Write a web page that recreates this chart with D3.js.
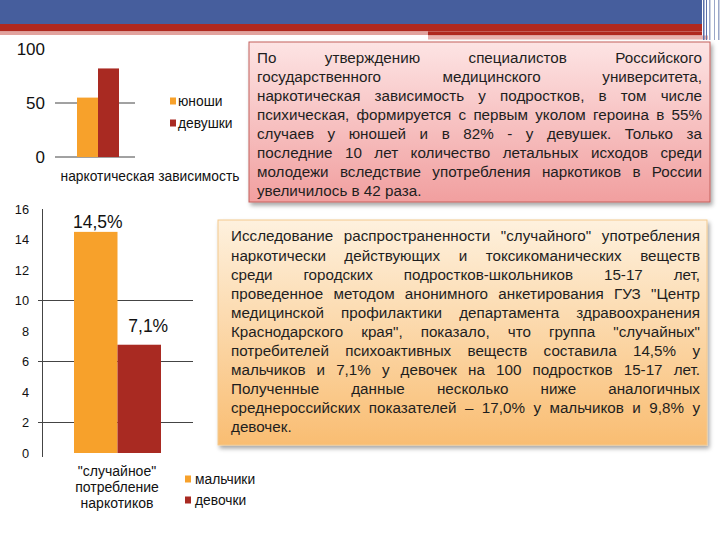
<!DOCTYPE html>
<html><head><meta charset="utf-8">
<script src="https://cdn.jsdelivr.net/npm/d3@7"></script>
<style>
html,body{margin:0;padding:0;background:#fff;}
svg{display:block;font-family:"Liberation Sans",Arial,sans-serif;}
</style></head>
<body>
<svg id="c" width="720" height="540"></svg>
<script>
// ---------- data ----------
const c1Category = "наркотическая зависимость";
const c1Series = ["юноши", "девушки"];
const c1Values = [55, 82];
const c1Ticks = [0, 50, 100];
const c1Grid = [0, 50];

const c2CategoryLines = ["\"случайное\"", "потребление", "наркотиков"];
const c2Series = ["мальчики", "девочки"];
const c2Values = [14.5, 7.1];
const c2Labels = ["14,5%", "7,1%"];
const c2Ticks = [0, 2, 4, 6, 8, 10, 12, 14, 16];
const c2Grid = [2, 6, 10];

const seriesColors = ["#f7a12b", "#a92a22"];

const text1Lines = [
  "По утверждению специалистов Российского",
  "государственного медицинского университета,",
  "наркотическая зависимость у подростков, в том числе",
  "психическая, формируется с первым уколом героина в 55%",
  "случаев у юношей и в 82% - у девушек. Только за",
  "последние 10 лет количество летальных исходов среди",
  "молодежи вследствие употребления наркотиков в России",
  "увеличилось в 42 раза."
];
const text2Lines = [
  "Исследование распространенности \"случайного\" употребления",
  "наркотически действующих и токсикоманических веществ",
  "среди городских подростков-школьников 15-17 лет,",
  "проведенное методом анонимного анкетирования ГУЗ \"Центр",
  "медицинской профилактики департамента здравоохранения",
  "Краснодарского края\", показало, что группа \"случайных\"",
  "потребителей психоактивных веществ составила 14,5% у",
  "мальчиков и 7,1% у девочек на 100 подростков 15-17 лет.",
  "Полученные данные несколько ниже аналогичных",
  "среднероссийских показателей – 17,0% у мальчиков и 9,8% у",
  "девочек."
];

const svg = d3.select("#c");
const defs = svg.append("defs");

// ---------- header ----------
const hdr = svg.append("g");
hdr.append("rect").attr("x", 0).attr("y", 0).attr("width", 702).attr("height", 24).attr("fill", "#465e9d");
hdr.append("rect").attr("x", 0).attr("y", 24).attr("width", 702).attr("height", 7.5).attr("fill", "#b0291f");
hdr.append("rect").attr("x", 0).attr("y", 31.5).attr("width", 428).attr("height", 3.5).attr("fill", "#e2a39e");
hdr.append("rect").attr("x", 428).attr("y", 31.5).attr("width", 274).attr("height", 4).attr("fill", "#b0291f");
hdr.append("rect").attr("x", 428).attr("y", 35.5).attr("width", 280).attr("height", 4).attr("fill", "#e8b2ae");
[703, 706, 709, 714, 718].forEach((x, i) => {
  hdr.append("rect").attr("x", x).attr("y", 0).attr("width", i % 2 ? 1 : 1.5).attr("height", 40)
    .attr("fill", i < 2 ? "#5b70aa" : "#9aa6c8");
});

// ---------- shadow + gradients ----------
const f = defs.append("filter").attr("id", "sh").attr("x", "-5%").attr("y", "-5%").attr("width", "115%").attr("height", "120%");
f.append("feDropShadow").attr("dx", 2).attr("dy", 3).attr("stdDeviation", 2).attr("flood-color", "#000").attr("flood-opacity", 0.35);

function grad(id, c0, c1) {
  const g = defs.append("linearGradient").attr("id", id).attr("x1", 0).attr("y1", 0).attr("x2", 0).attr("y2", 1);
  g.append("stop").attr("offset", "0%").attr("stop-color", c0);
  g.append("stop").attr("offset", "100%").attr("stop-color", c1);
}
grad("g1", "#fde4e4", "#f19f9f");
grad("g2", "#fef1de", "#f9bd72");

// ---------- text boxes ----------
function textBox(box, lines, fill, stroke, tx, tw, y0, dy, fs) {
  svg.append("rect").attr("x", box[0]).attr("y", box[1]).attr("width", box[2]).attr("height", box[3])
    .attr("fill", fill).attr("stroke", stroke).attr("stroke-width", 1).attr("filter", "url(#sh)");
  const outer = svg.append("g").attr("fill", "#1e1e1e");
  // horizontal condensing so the longest line fits the width
  const probe = outer.append("text").attr("font-size", fs);
  let sx = 1;
  lines.forEach(l => { probe.text(l); sx = Math.min(sx, tw / probe.node().getComputedTextLength()); });
  probe.remove();
  sx *= 0.995;
  const g = outer.append("g").attr("transform", `translate(${tx},0) scale(${sx},1)`);
  const w = tw / sx;
  lines.forEach((l, i) => {
    const y = y0 + i * dy;
    const words = l.split(" ");
    const last = i === lines.length - 1;
    const ws = words.map(t0 => {
      const t = g.append("text").attr("font-size", fs).attr("y", y).text(t0);
      return { t, w: t.node().getComputedTextLength() };
    });
    const total = d3.sum(ws, d => d.w);
    let gap;
    if (last || ws.length < 2) {
      gap = fs * 0.278;
    } else {
      gap = (w - total) / (ws.length - 1);
    }
    let x = 0;
    ws.forEach(d => { d.t.attr("x", x); x += d.w + gap; });
  });
}
textBox([249, 42, 461, 160], text1Lines, "url(#g1)", "#c4605c", 257, 445, 63.5, 19, 15.3);
textBox([218, 220, 489, 225], text2Lines, "url(#g2)", "#f3c98e", 231, 469, 241.5, 19.1, 15.3);

// ---------- chart 1 ----------
{
  const y = d3.scaleLinear().domain([0, 100]).range([157, 49]);
  const x = d3.scaleBand().domain(c1Series).range([77, 119]).padding(0);
  const g = svg.append("g");
  g.selectAll(".grid").data(c1Grid).join("line")
    .attr("x1", 55).attr("x2", 135).attr("y1", d => y(d)).attr("y2", d => y(d))
    .attr("stroke", "#444").attr("stroke-width", 1);
  g.selectAll(".bar").data(c1Values).join("rect")
    .attr("x", (d, i) => x(c1Series[i])).attr("width", x.bandwidth())
    .attr("y", d => y(d)).attr("height", d => y(0) - y(d))
    .attr("fill", (d, i) => seriesColors[i]);
  g.selectAll(".tick").data(c1Ticks).join("text")
    .attr("x", 45).attr("y", d => y(d)).attr("dy", "0.36em").attr("text-anchor", "end")
    .attr("font-size", 17).attr("fill", "#111").text(d => d);
  g.append("text").attr("x", 150).attr("y", 181).attr("text-anchor", "middle")
    .attr("font-size", 13.8).attr("fill", "#111").text(c1Category);
  const lg = g.selectAll(".lg").data(c1Series).join("g")
    .attr("transform", (d, i) => `translate(170,${101 + i * 22})`);
  lg.append("rect").attr("x", 0).attr("y", -3.5).attr("width", 6).attr("height", 7).attr("fill", (d, i) => seriesColors[i]);
  lg.append("text").attr("x", 8).attr("y", 0).attr("dy", "0.35em").attr("font-size", 13.8).attr("fill", "#111").text(d => d);
}

// ---------- chart 2 ----------
{
  const y = d3.scaleLinear().domain([0, 16]).range([453, 209]);
  const x = d3.scaleBand().domain(c2Series).range([74, 161]).padding(0);
  const g = svg.append("g");
  const lblNudge = [[2, -4], [9, -13]];
  g.selectAll(".grid").data(c2Grid).join("line")
    .attr("x1", 38).attr("x2", 193).attr("y1", d => y(d)).attr("y2", d => y(d))
    .attr("stroke", "#444").attr("stroke-width", 1);
  g.append("line").attr("x1", 42.5).attr("x2", 42.5).attr("y1", y(16)).attr("y2", y(0) + 4)
    .attr("stroke", "#444").attr("stroke-width", 1);
  g.selectAll(".bar").data(c2Values).join("rect")
    .attr("x", (d, i) => x(c2Series[i])).attr("width", x.bandwidth())
    .attr("y", d => y(d)).attr("height", d => y(0) - y(d))
    .attr("fill", (d, i) => seriesColors[i]);
  g.selectAll(".lbl").data(c2Values).join("text")
    .attr("x", (d, i) => x(c2Series[i]) + x.bandwidth() / 2 + lblNudge[i][0])
    .attr("y", (d, i) => y(d) + lblNudge[i][1]).attr("text-anchor", "middle")
    .attr("font-size", 17.5).attr("fill", "#111").text((d, i) => c2Labels[i]);
  g.selectAll(".tick").data(c2Ticks).join("text")
    .attr("x", 29).attr("y", d => y(d)).attr("dy", "0.36em").attr("text-anchor", "end")
    .attr("font-size", 12.8).attr("fill", "#111").text(d => d);
  g.selectAll(".cat").data(c2CategoryLines).join("text")
    .attr("x", 117).attr("y", (d, i) => 476 + i * 16).attr("text-anchor", "middle")
    .attr("font-size", 14).attr("fill", "#111").text(d => d);
  const lg = g.selectAll(".lg").data(c2Series).join("g")
    .attr("transform", (d, i) => `translate(185,${479 + i * 21})`);
  lg.append("rect").attr("x", 0).attr("y", -3.5).attr("width", 6).attr("height", 7).attr("fill", (d, i) => seriesColors[i]);
  lg.append("text").attr("x", 10).attr("y", 0).attr("dy", "0.35em").attr("font-size", 13.8).attr("fill", "#111").text(d => d);
}
</script>
</body></html>
